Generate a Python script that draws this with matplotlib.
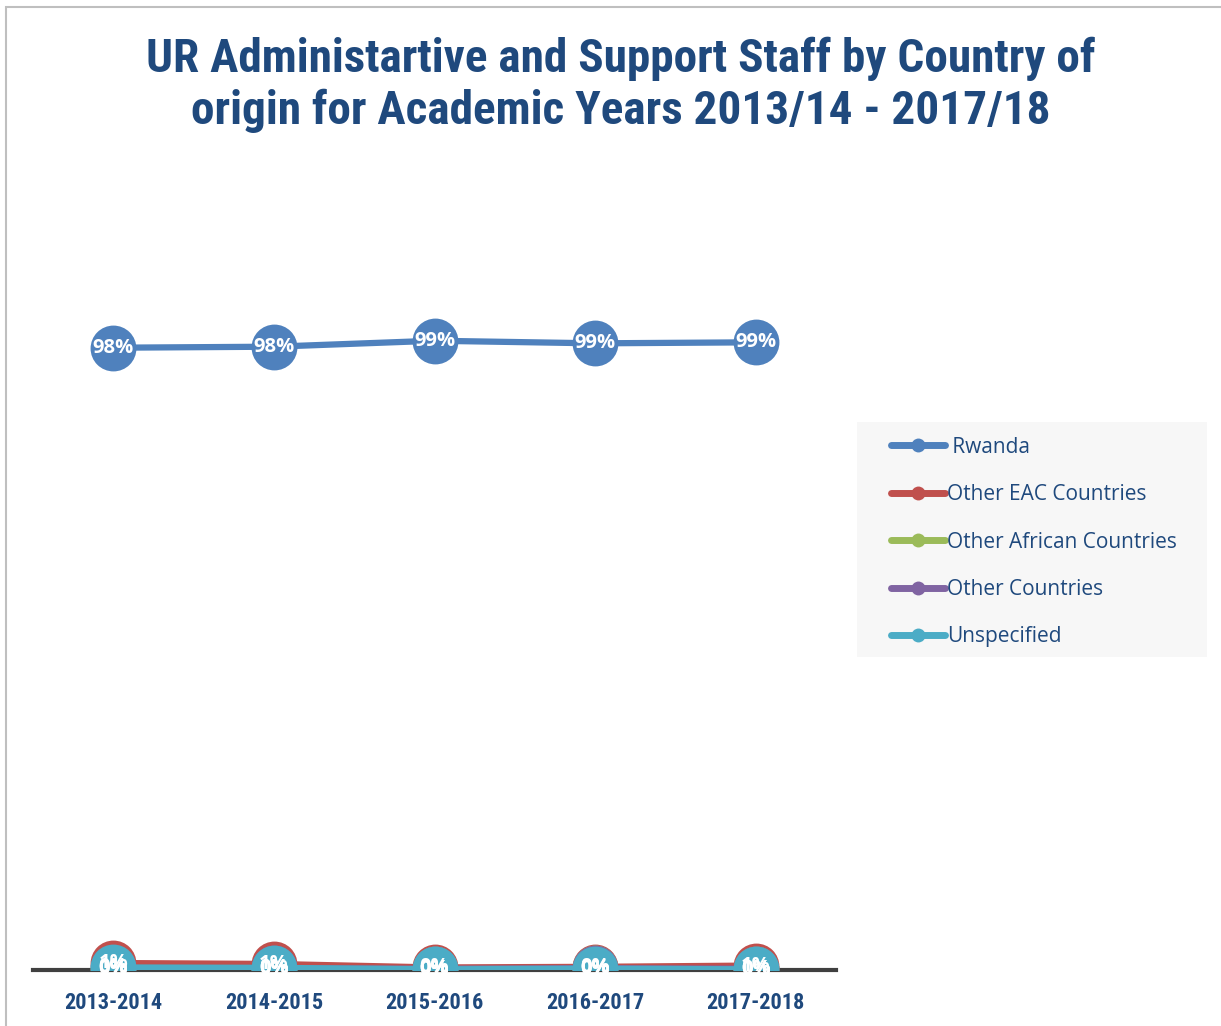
import numpy as np
import matplotlib; matplotlib.use("Agg")
import matplotlib.pyplot as plt
from matplotlib.patches import Rectangle
from matplotlib.lines import Line2D

years = ["2013-2014", "2014-2015", "2015-2016", "2016-2017", "2017-2018"]
series = ["Rwanda", "Other EAC Countries", "Other African Countries", "Other Countries", "Unspecified"]
rwanda = [0.9805, 0.9821, 0.9915, 0.9874, 0.9890]
eac = [0.0110, 0.0095, 0.0040, 0.0050, 0.0070]
african = [0.0015, 0.0020, 0.0015, 0.0025, 0.0010]
other = [0.0030, 0.0030, 0.0020, 0.0030, 0.0020]
unspec = [0.0040, 0.0034, 0.0010, 0.0021, 0.0010]
values = [rwanda, eac, african, other, unspec]
colors = ["#4F81BD", "#C0504D", "#9BBB59", "#8064A2", "#4BACC6"]

W, H = 1221, 1026
NARROW = ["Roboto Condensed", "Liberation Sans Narrow", "DejaVu Sans"]
NAVY = "#1F497D"

fig = plt.figure(figsize=(W / 100, H / 100), dpi=100)
fig.patches.append(Rectangle((6 / W, -0.1), 1.2, 1 - 7 / H + 0.1, transform=fig.transFigure,
                             fill=False, edgecolor="#BFBFBF", lw=1.5))
# legend background
fig.patches.append(Rectangle((857 / W, 1 - 657 / H), 350 / W, 235 / H, transform=fig.transFigure,
                             facecolor="#F7F7F7", edgecolor="none"))

ax = fig.add_axes([33 / W, (H - 970) / H, 803 / W, (970 - 208.4) / H])
x = np.arange(len(years))
for name, v, c in zip(series, values, colors):
    ax.plot(x, v, color=c, lw=4.5, marker="o", ms=33, mec=c, mew=0, solid_capstyle="round", zorder=3)
    for xi, vi in zip(x, v):
        ax.text(xi, vi, f"{vi:.0%}", color="white", ha="center", va="center", fontsize=14.5,
                fontweight="bold", fontstretch="condensed", family=["Open Sans", "DejaVu Sans"], zorder=4)

ax.set_xlim(-0.5, len(years) - 0.5)
ax.set_ylim(0, 1.2)
ax.set_yticks([])
ax.set_xticks(x)
ax.set_xticklabels(years, color=NAVY, fontsize=16, fontweight="bold", fontstretch="condensed", family=NARROW)
ax.tick_params(axis="x", length=0, pad=16)
for s in ["top", "right", "left"]:
    ax.spines[s].set_visible(False)
ax.spines["bottom"].set_color("#404040")
ax.spines["bottom"].set_linewidth(3)
ax.spines["bottom"].set_zorder(1)
ax.patch.set_alpha(0)

fig.text(621 / W, 1 - 85 / H, "UR Administartive and Support Staff by Country of\norigin for Academic Years 2013/14 - 2017/18",
         ha="center", va="center", color=NAVY, fontsize=34, fontweight="bold", fontstretch="condensed",
         family=NARROW, linespacing=1.2)

handles = [Line2D([], [], color=c, lw=5, marker="o", ms=10, mew=0, solid_capstyle="round") for c in colors]
labels = [" Rwanda"] + series[1:]
leg = fig.legend(handles, labels, loc="center left", bbox_to_anchor=(891 / W, 1 - 542 / H),
                 frameon=False, fontsize=15, handlelength=2.6, handletextpad=0.1, labelspacing=1.27,
                 borderpad=0, borderaxespad=0)
for t in leg.get_texts():
    t.set_color(NAVY)
    t.set_family(["Open Sans", "DejaVu Sans"])

fig.savefig("out.png", dpi=100)
